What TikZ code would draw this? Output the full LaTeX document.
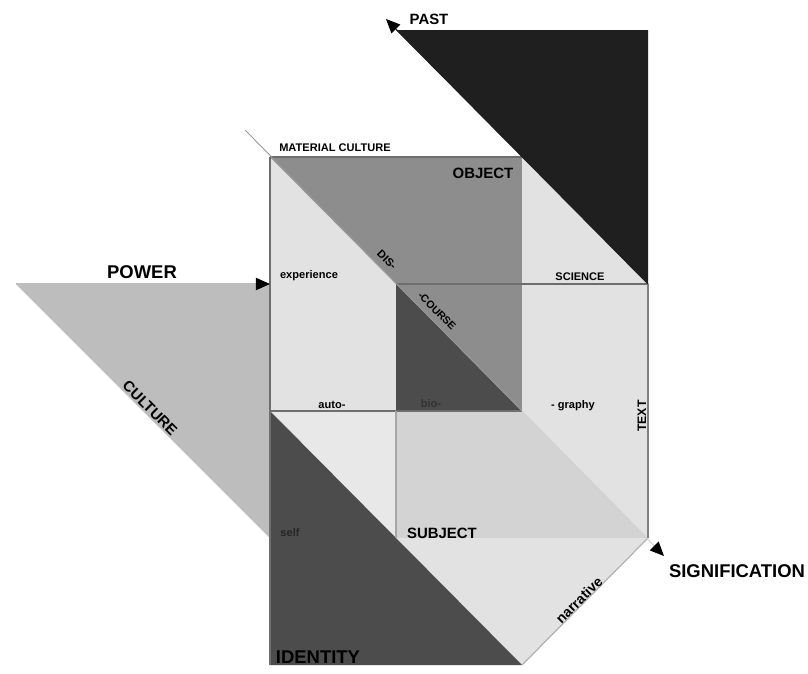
\documentclass[tikz,border=0pt]{standalone}
\usepackage{fontspec}
\setmainfont{Liberation Sans}
\usetikzlibrary{arrows.meta}

\definecolor{coalgray}{HTML}{1F1F1F}
\definecolor{midgray}{HTML}{8D8D8D}
\definecolor{deepgray}{HTML}{4C4C4C}
\definecolor{palegray}{HTML}{E2E2E2}
\definecolor{powergray}{HTML}{BDBDBD}
\definecolor{subjgray}{HTML}{D3D3D3}
\definecolor{linegray}{HTML}{6E6E6E}

\begin{document}
\begin{tikzpicture}[x=0.02cm, y=-0.02cm,
    every node/.style={inner sep=0pt},
    tiny/.style={font=\bfseries\fontsize{6.3}{7}\selectfont},
    word/.style={font=\bfseries\fontsize{8.5}{10}\selectfont},
    head/.style={font=\bfseries\fontsize{10.5}{12}\selectfont},
    edge/.style={draw=linegray, line width=0.7pt},
    tip/.style={-{Triangle[length=8pt, width=7pt, color=black, fill=black]}, line width=0.6pt}
]
    \fill[white] (0,0) rectangle (808,673);
    \useasboundingbox (0,0) rectangle (808,673);

    % grid of corners, 126 px across and 127 px down
    \foreach \i in {0,...,3}
        \foreach \j in {0,...,5}
            \coordinate (g\i\j) at (270+126*\i, 30+127*\j);
    \coordinate (pw) at (16,284);
    \coordinate (mc) at (245,130);
    \coordinate (pastend) at (386,19);
    \coordinate (sigend) at (664,556);

    % shaded fields
    \fill[powergray] (pw) -- (g02) -- (g04) -- cycle;
    \fill[palegray] (g01) -- (g12) -- (g13) -- (g03) -- cycle;
    \fill[midgray] (g01) -- (g21) -- (g23) -- cycle;
    \fill[deepgray] (g12) -- (g13) -- (g23) -- cycle;
    \fill[palegray] (g21) -- (g32) -- (g34) -- (g23) -- cycle;
    \fill[subjgray] (g13) -- (g23) -- (g34) -- (g14) -- cycle;
    \fill[palegray!80!white] (g03) -- (g13) -- (g14) -- cycle;
    \fill[palegray] (g14) -- (g34) -- (g25) -- cycle;
    \fill[deepgray] (g03) -- (g05) -- (g25) -- cycle;
    \fill[coalgray] (g10) -- (g30) -- (g32) -- cycle;

    % rules
    \draw[edge] (g01) -- (g21);
    \draw[edge] (g12) -- (g32);
    \draw[edge] (g03) -- (g23);
    \draw[edge] (g01) -- (g05);
    \draw[edge, draw=gray] (g32) -- (g34);
    \draw[edge, draw=gray!70] (g13) -- (g14);
    \draw[edge, draw=gray!60] (g25) -- (g34);
    \draw[edge, draw=gray!80, line width=0.5pt] (mc) -- (g23);

    % arrows
    \draw[tip, draw=powergray] (pw) -- (g02);
    \draw[tip, draw=coalgray] (g32) -- (pastend);
    \draw[tip, draw=gray!35] (g23) -- (sigend);

    % labels
    \node[word] (past) at (429,19) {PAST};
    \node[tiny] (matcult) at (335,148) {MATERIAL CULTURE};
    \node[word] (object) at (483,173) {OBJECT};
    \node[tiny, rotate=-45] (dis) at (387,260) {DIS-};
    \node[tiny, font=\bfseries\fontsize{6}{7}\selectfont, rotate=-45] (course) at (437,311) {-COURSE};
    \node[tiny] (exper) at (309,276) {experience};
    \node[tiny] (science) at (580,277) {SCIENCE};
    \node[head] (power) at (142,272) {POWER};
    \node[word, rotate=-45] (culture) at (150,408) {CULTURE};
    \node[tiny] (auto) at (332,405) {auto-};
    \node[tiny, text=black!80] (bio) at (431,404) {bio-};
    \node[tiny] (graphy) at (573,406) {- graphy};
    \node[tiny, font=\bfseries\fontsize{7}{8}\selectfont, rotate=90] (text) at (642,416) {TEXT};
    \node[word] (subject) at (442,533) {SUBJECT};
    \node[tiny, text=black!85] (self) at (290,533) {self};
    \node[head] (identity) at (318,657) {IDENTITY};
    \node[word, font=\bfseries\fontsize{8}{9}\selectfont, rotate=45] (narr) at (579,600) {narrative};
    \node[head] (signif) at (737,571) {SIGNIFICATION};
\end{tikzpicture}
\end{document}
